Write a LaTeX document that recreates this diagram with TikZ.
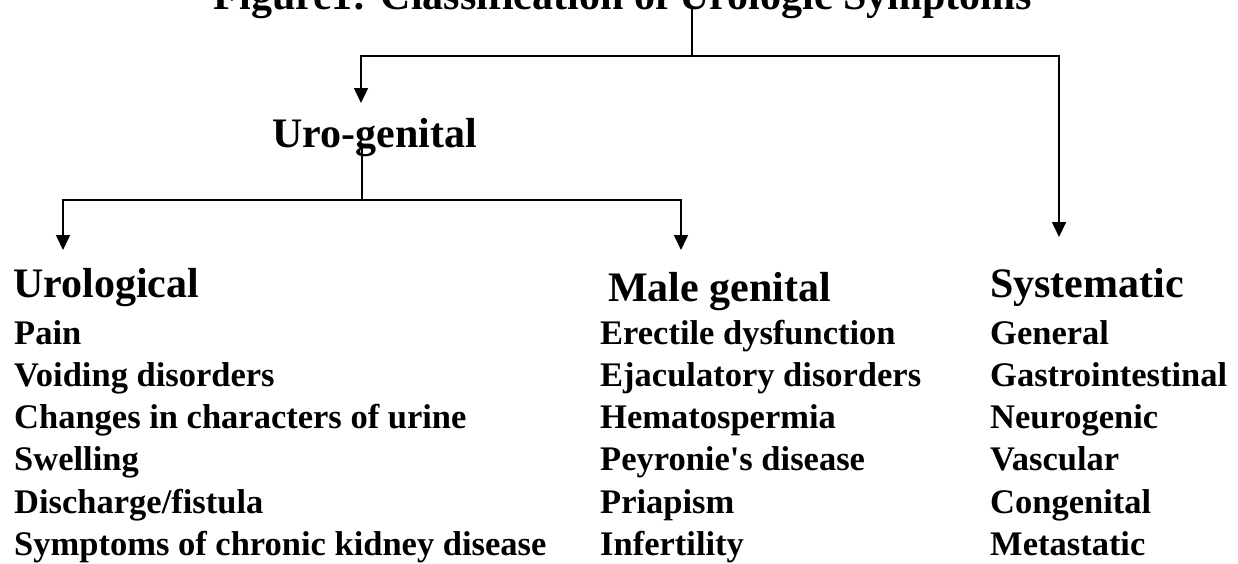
\documentclass[tikz,border=0pt]{standalone}
\usepackage{fontspec}
\setmainfont{Liberation Serif}
\usetikzlibrary{arrows.meta,positioning}

\tikzset{
  heading/.style={anchor=base west, inner sep=0pt, font=\fontsize{42}{50}\selectfont\bfseries},
  item/.style={anchor=base west, inner sep=0pt, font=\fontsize{34.5}{42}\selectfont\bfseries},
  link/.style={line width=1.6pt},
  arr/.style={line width=1.6pt, -{Triangle[width=14pt,length=15pt]}}
}

\begin{document}
\begin{tikzpicture}[x=1pt, y=-1pt]
\useasboundingbox (0,0) rectangle (1238,563);

% Title (cut by the top edge)
\node[heading, anchor=base] (title) at (623,9) {Figure1: Classification of Urologic Symptoms};

% First level
\node[heading] (urogen) at (272,147) {Uro-genital};
\coordinate (hub1) at (692,56);
\coordinate (tip1) at (361,103);
\coordinate (tip2) at (1059,237);
\draw[link] (title.base -| hub1) -- (hub1);
\draw[arr] (hub1) -| (tip1);
\draw[arr] (hub1) -| (tip2);

% Second level
\coordinate (hub2) at (362,200);
\coordinate (tip3) at (63,250);
\coordinate (tip4) at (681,250);
\draw[link] (urogen.base -| hub2) -- (hub2);
\draw[arr] (hub2) -| (tip3);
\draw[arr] (hub2) -| (tip4);

% Urological
\node[heading] (urolog) at (13,297) {Urological};
\node[item] (u1) at (14,344) {Pain};
\node[item] (u2) at (14,386.3) {Voiding disorders};
\node[item] (u3) at (14,428.6) {Changes in characters of urine};
\node[item] (u4) at (14,470.9) {Swelling};
\node[item] (u5) at (14,513.2) {Discharge/fistula};
\node[item] (u6) at (14,555.5) {Symptoms of chronic kidney disease};

% Male genital
\node[heading] (male) at (608,301) {Male genital};
\node[item] (m1) at (600,344) {Erectile dysfunction};
\node[item] (m2) at (600,386.3) {Ejaculatory disorders};
\node[item] (m3) at (600,428.6) {Hematospermia};
\node[item] (m4) at (600,470.9) {Peyronie\textquotesingle s disease};
\node[item] (m5) at (600,513.2) {Priapism};
\node[item] (m6) at (600,555.5) {Infertility};

% Systematic
\node[heading] (system) at (990,297) {Systematic};
\node[item] (s1) at (990,344) {General};
\node[item] (s2) at (990,386.3) {Gastrointestinal};
\node[item] (s3) at (990,428.6) {Neurogenic};
\node[item] (s4) at (990,470.9) {Vascular};
\node[item] (s5) at (990,513.2) {Congenital};
\node[item] (s6) at (990,555.5) {Metastatic};

\end{tikzpicture}
\end{document}
